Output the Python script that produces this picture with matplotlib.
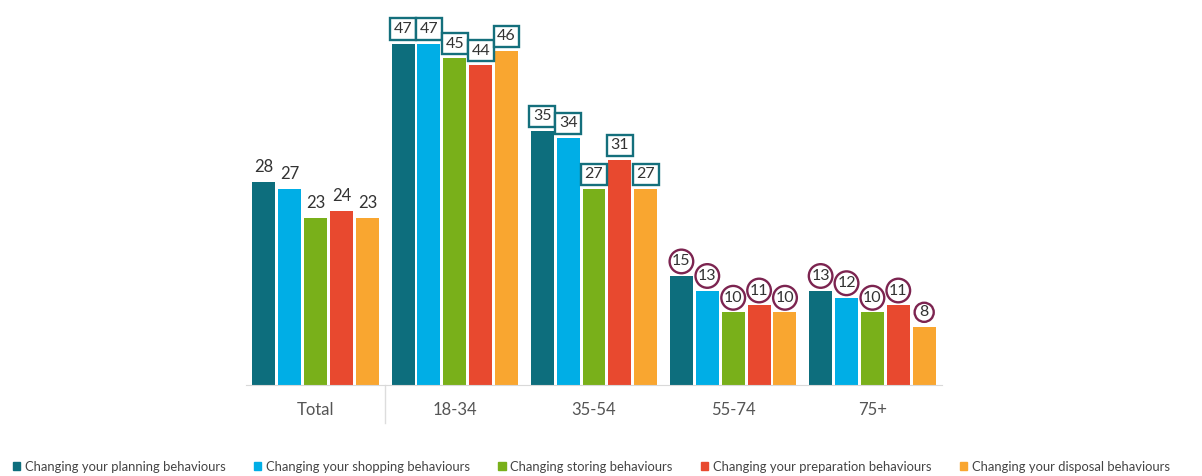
import numpy as np
import matplotlib.pyplot as plt
from matplotlib.patches import Patch

groups = ["Total", "18-34", "35-54", "55-74", "75+"]
series = [
    "Changing your planning behaviours",
    "Changing your shopping behaviours",
    "Changing storing behaviours",
    "Changing your preparation behaviours",
    "Changing your disposal behaviours",
]
planning = [28, 47, 35, 15, 13]
shopping = [27, 47, 34, 13, 12]
storing = [23, 45, 27, 10, 10]
preparation = [24, 44, 31, 11, 11]
disposal = [23, 46, 27, 10, 8]

colors = ["#0d6e7d", "#00aee6", "#79b01a", "#e8492f", "#f9a630"]
# label style per age group: none, square box, circle
label_style = [None, "square", "square", "round", "round"]
box_edge = {"square": "#146f7c", "round": "#7c2450"}

plt.rcParams["font.family"] = ["Lato", "DejaVu Sans"]

fig = plt.figure(figsize=(12.02, 4.76), dpi=100)
ax = fig.add_axes([246 / 1202, 1 - 385 / 476, 696 / 1202, 385 / 476])

x = np.arange(len(groups))
step = 0.186
width = 0.165
values = [planning, shopping, storing, preparation, disposal]

for i, (vals, col) in enumerate(zip(values, colors)):
    xs = x + (i - 2) * step
    ax.bar(xs, vals, width=width, color=col, zorder=2)
    for gi, (xx, v) in enumerate(zip(xs, vals)):
        style = label_style[gi]
        if style is None:
            ax.annotate(str(v), (xx, v), xytext=(0, 5), textcoords="offset points",
                        ha="center", va="bottom", fontsize=12, color="#333333")
        else:
            bs = "square,pad=0.22" if style == "square" else "circle,pad=0.16"
            ax.annotate(str(v), (xx, v), xytext=(0, 10.5), textcoords="offset points",
                        ha="center", va="center", fontsize=11.5, color="#333333",
                        bbox=dict(boxstyle=bs, fc="white", ec=box_edge[style], lw=1.7))

ax.set_xlim(-0.5, len(groups) - 0.5)
ax.set_ylim(0, 53)
ax.set_yticks([])
ax.set_xticks(x)
ax.set_xticklabels(groups, fontsize=12, color="#555555")
ax.tick_params(axis="x", length=0, pad=12)
for s in ["top", "right", "left"]:
    ax.spines[s].set_visible(False)
ax.spines["bottom"].set_color("#d9d9d9")

# separator between Total and the age groups
ax.plot([0.5, 0.5], [0, -5.2], color="#dddddd", lw=1, clip_on=False)

handles = [Patch(color=c) for c in colors]
fig.legend(handles, series, loc="lower center", bbox_to_anchor=(0.492, -0.018), ncol=5,
           frameon=False, fontsize=9.4, handlelength=0.55, handleheight=0.55,
           handletextpad=0.35, columnspacing=2.2, labelcolor="#444444")

fig.savefig("out.png", dpi=100)
